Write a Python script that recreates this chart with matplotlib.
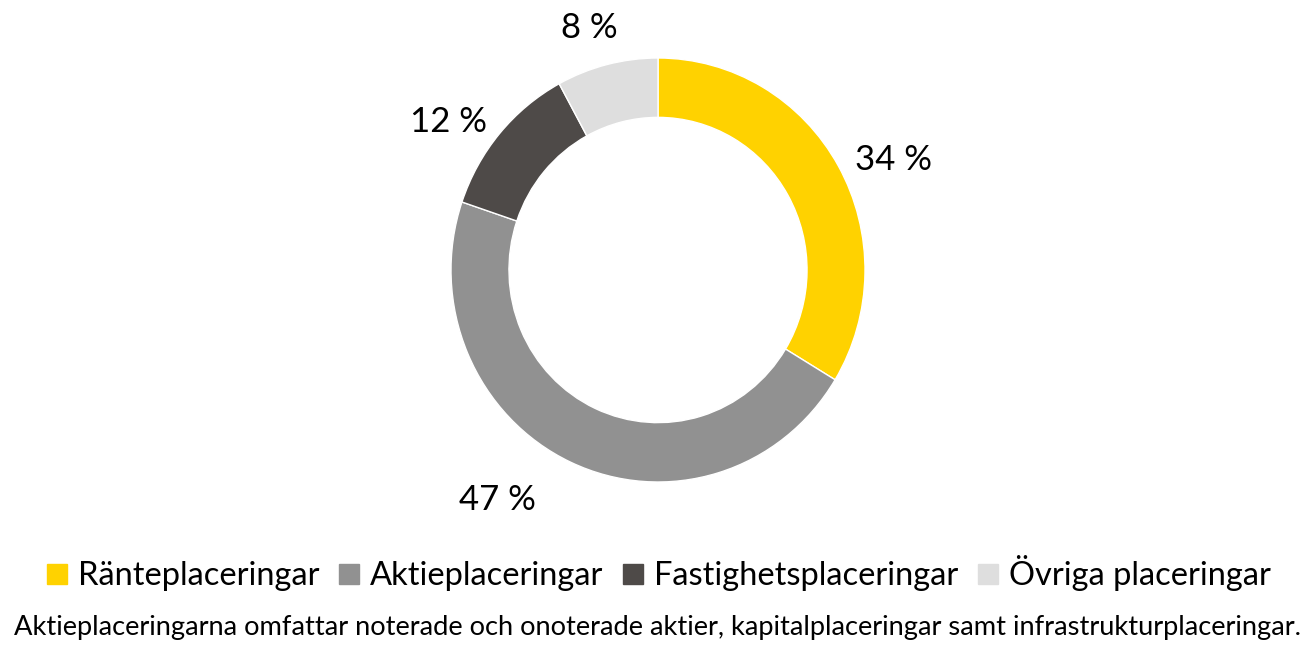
import matplotlib.pyplot as plt
import numpy as np

categories = ["Ränteplaceringar", "Aktieplaceringar", "Fastighetsplaceringar", "Övriga placeringar"]
values = [34, 47, 12, 8]
labels = ["34 %", "47 %", "12 %", "8 %"]
colors = ["#FFD200", "#919191", "#4E4A48", "#DEDEDE"]
footnote = ("Aktieplaceringarna omfattar noterade och onoterade aktier, "
            "kapitalplaceringar samt infrastrukturplaceringar.")

plt.rcParams["font.family"] = ["Lato", "DejaVu Sans"]

W, H = 1316, 653
fig = plt.figure(figsize=(W / 100, H / 100), dpi=100)

# axes centred on the donut; radius 1 -> ~207 px wide, ~212 px tall
cx, cy, side = 658, 270, 620
ax = fig.add_axes([(cx - side / 2) / W, (H - cy - side / 2) / H, side / W, side / H])

wedges, _ = ax.pie(
    values,
    colors=colors,
    startangle=90,
    counterclock=False,
    radius=1.0,
    wedgeprops=dict(width=0.28, edgecolor="white", linewidth=1),
)

# manual label placement (angle nudge in degrees, radial distance)
nudge = [-4.8, -10.6, 5.5, 2.0]
dist = [1.25, 1.335, 1.23, 1.19]
for w, lab, dn, r in zip(wedges, labels, nudge, dist):
    ang = np.deg2rad((w.theta1 + w.theta2) / 2 + dn)
    ax.text(r * np.cos(ang), r * np.sin(ang), lab,
            ha="center", va="center", fontsize=25, color="#000000")

ax.set_aspect("auto")
ax.set_xlim(-side / 2 / 207, side / 2 / 207)
ax.set_ylim(-side / 2 / 212, side / 2 / 212)
ax.axis("off")

handles = [plt.Line2D([], [], marker="s", linestyle="", markersize=14,
                      markerfacecolor=c, markeredgecolor=c) for c in colors]
fig.legend(
    handles, categories,
    loc="center",
    bbox_to_anchor=(0.5, 1 - 573 / H),
    ncol=4,
    frameon=False,
    fontsize=23.5,
    handlelength=0.7,
    handletextpad=0.3,
    columnspacing=0.55,
)

fig.text(0.5, 1 - 628 / H, footnote, ha="center", va="center", fontsize=19.6)

fig.savefig("out.png", dpi=100)
